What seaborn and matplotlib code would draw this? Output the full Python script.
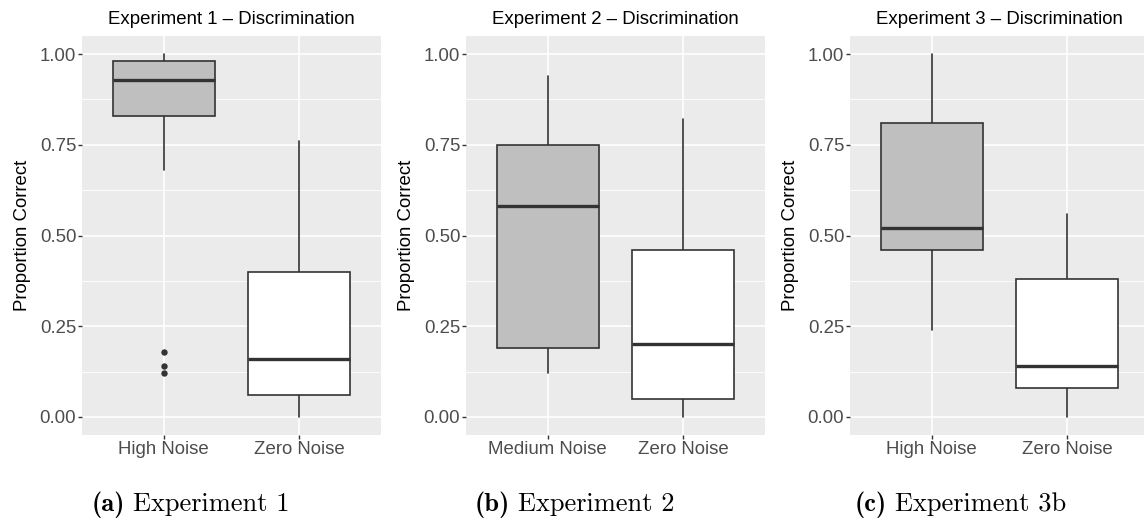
import matplotlib
matplotlib.use("Agg")
import matplotlib.pyplot as plt
import seaborn as sns
import pandas as pd

# ---------------- data ----------------
titles = ["Experiment 1 \u2013 Discrimination",
          "Experiment 2 \u2013 Discrimination",
          "Experiment 3 \u2013 Discrimination"]
caption_tags = ["(a)", "(b)", "(c)"]
caption_texts = ["Experiment 1", "Experiment 2", "Experiment 3b"]
conditions = [["High Noise", "Zero Noise"],
              ["Medium Noise", "Zero Noise"],
              ["High Noise", "Zero Noise"]]

# five-number summaries per panel: [noise condition, zero noise]
whisker_low = [[0.68, 0.00], [0.12, 0.00], [0.24, 0.00]]
q1 = [[0.83, 0.06], [0.19, 0.05], [0.46, 0.08]]
median = [[0.93, 0.16], [0.58, 0.20], [0.52, 0.14]]
q3 = [[0.98, 0.40], [0.75, 0.46], [0.81, 0.38]]
whisker_high = [[1.00, 0.76], [0.94, 0.82], [1.00, 0.56]]
outliers = [[[0.18, 0.14, 0.12], []], [[], []], [[], []]]

fills = ["#BFBFBF", "#FFFFFF"]
yticks = [0.0, 0.25, 0.5, 0.75, 1.0]
ytick_labels = ["0.00", "0.25", "0.50", "0.75", "1.00"]

# ---------------- style ----------------
sns.set_theme(style="darkgrid", rc={
    "axes.facecolor": "#EBEBEB",
    "grid.color": "white",
    "figure.facecolor": "white",
})
plt.rcParams["font.family"] = ["Liberation Sans", "DejaVu Sans"]

fig = plt.figure(figsize=(11.44, 5.22), dpi=100)
W, H = 1144.0, 522.0
lefts = [82, 466, 850]
ax_w = 299
ax_top, ax_bot = 36, 435

edge = "#333333"
FS = 13.4

for i in range(3):
    ax = fig.add_axes([lefts[i] / W, 1 - ax_bot / H, ax_w / W, (ax_bot - ax_top) / H])
    stats = []
    for j in range(2):
        stats.append(dict(med=median[i][j], q1=q1[i][j], q3=q3[i][j],
                          whislo=whisker_low[i][j], whishi=whisker_high[i][j],
                          fliers=[]))
    bp = ax.bxp(stats, positions=[0, 1], widths=0.75, patch_artist=True,
                showcaps=False, showfliers=False, manage_ticks=False,
                boxprops=dict(edgecolor=edge, linewidth=1.2),
                medianprops=dict(color=edge, linewidth=2.4, solid_capstyle="butt"),
                whiskerprops=dict(color=edge, linewidth=1.2))
    for patch, fc in zip(bp["boxes"], fills):
        patch.set_facecolor(fc)
        patch.set_zorder(3)
    for m in bp["medians"]:
        m.set_zorder(4)
    for wsk in bp["whiskers"]:
        wsk.set_zorder(2.5)

    # outlier points through seaborn
    rows = []
    for j in range(2):
        for v in outliers[i][j]:
            rows.append({"cond": conditions[i][j], "value": v})
    if rows:
        df = pd.DataFrame(rows)
        sns.stripplot(data=df, x="cond", y="value", order=conditions[i],
                      jitter=False, color=edge, size=4.6, linewidth=0,
                      ax=ax, zorder=5)

    ax.set_xlim(-0.6, 1.6)
    ax.set_ylim(-0.05, 1.05)
    ax.set_xticks([0, 1])
    ax.set_xticklabels(conditions[i])
    ax.set_yticks(yticks)
    ax.set_yticklabels(ytick_labels)
    ax.set_yticks([0.125, 0.375, 0.625, 0.875], minor=True)
    ax.grid(True, which="major", axis="both", color="white", linewidth=1.2)
    ax.grid(True, which="minor", axis="y", color="white", linewidth=0.6)
    ax.set_axisbelow(True)
    for s in ax.spines.values():
        s.set_visible(False)
    ax.tick_params(axis="both", which="major", length=2.6, width=1.0,
                   color=edge, labelcolor="#4D4D4D", labelsize=FS,
                   left=True, bottom=True)
    ax.tick_params(axis="y", which="major", pad=1.5)
    ax.tick_params(axis="x", which="major", pad=2.0)
    ax.tick_params(which="minor", length=0)
    ax.set_xlabel("")
    ax.set_ylabel("Proportion Correct", fontsize=FS, color="black", labelpad=6)
    ax.set_title(titles[i], fontsize=FS, color="black", pad=8.5)

cap_x = [92, 475, 855]
CFS = 19
for i in range(3):
    t1 = fig.text(cap_x[i] / W, 1 - 511 / H, caption_tags[i], fontsize=CFS,
                  family="cmb10", ha="left", va="baseline", color="black")
    fig.canvas.draw()
    bb = t1.get_window_extent()
    fig.text((bb.x1 + 8) / W, 1 - 511 / H, caption_texts[i], fontsize=CFS,
             family="cmr10", ha="left", va="baseline", color="black")

fig.savefig("out.png", dpi=100)
